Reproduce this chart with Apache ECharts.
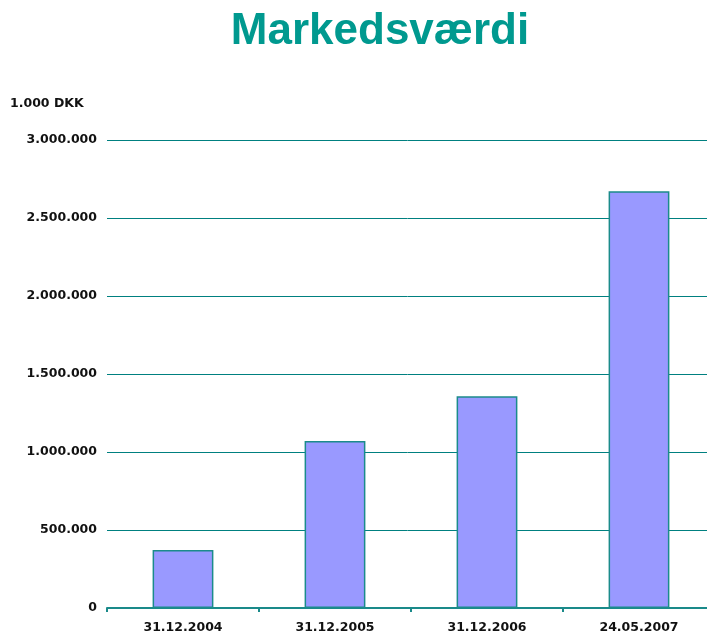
<!DOCTYPE html>
<html>
<head>
<meta charset="utf-8">
<script src="https://cdn.jsdelivr.net/npm/echarts@6/dist/echarts.min.js"></script>
<style>
  html, body { margin: 0; padding: 0; background: #fff; }
  #chart { width: 707px; height: 639px; }
</style>
</head>
<body>
<div id="chart"></div>
<script>
var dates = ['31.12.2004', '31.12.2005', '31.12.2006', '24.05.2007'];
var values = [372000, 1070000, 1358000, 2672000];

function dkFormat(v) {
  return String(v).replace(/\B(?=(\d{3})+(?!\d))/g, '.');
}

var labelFont = { fontFamily: 'DejaVu Sans', fontWeight: 'bold', fontSize: 12.5, color: '#111' };

var chart = echarts.init(document.getElementById('chart'));
var option = {
  animation: false,
  title: [
    {
      text: 'Markedsværdi',
      left: 375,
      textAlign: 'center',
      top: 5,
      textStyle: { fontFamily: 'Liberation Sans', fontWeight: 'bold', fontSize: 44, color: '#00998f' }
    },
    {
      text: '1.000 DKK',
      left: 5,
      top: 92,
      textStyle: labelFont
    }
  ],
  grid: { left: 107, width: 608, top: 140, bottom: 31, containLabel: false, outerBoundsMode: 'none' },
  xAxis: {
    type: 'category',
    data: dates,
    axisLine: { lineStyle: { color: '#1a8a8a', width: 2 } },
    axisTick: { show: true, length: 4, lineStyle: { color: '#1a8a8a', width: 2 } },
    axisLabel: Object.assign({ margin: 13 }, labelFont)
  },
  yAxis: {
    type: 'value',
    min: 0,
    max: 3000000,
    interval: 500000,
    axisLine: { show: false },
    axisTick: { show: false },
    splitLine: { lineStyle: { color: '#008080', width: 1 } },
    axisLabel: Object.assign({ margin: 10, formatter: dkFormat }, labelFont)
  },
  series: [{
    type: 'bar',
    data: values,
    barWidth: '40%',
    itemStyle: { color: '#9999ff', borderColor: '#1b8b8b', borderWidth: 1.5 }
  }]
};
chart.setOption(option);
</script>
</body>
</html>
